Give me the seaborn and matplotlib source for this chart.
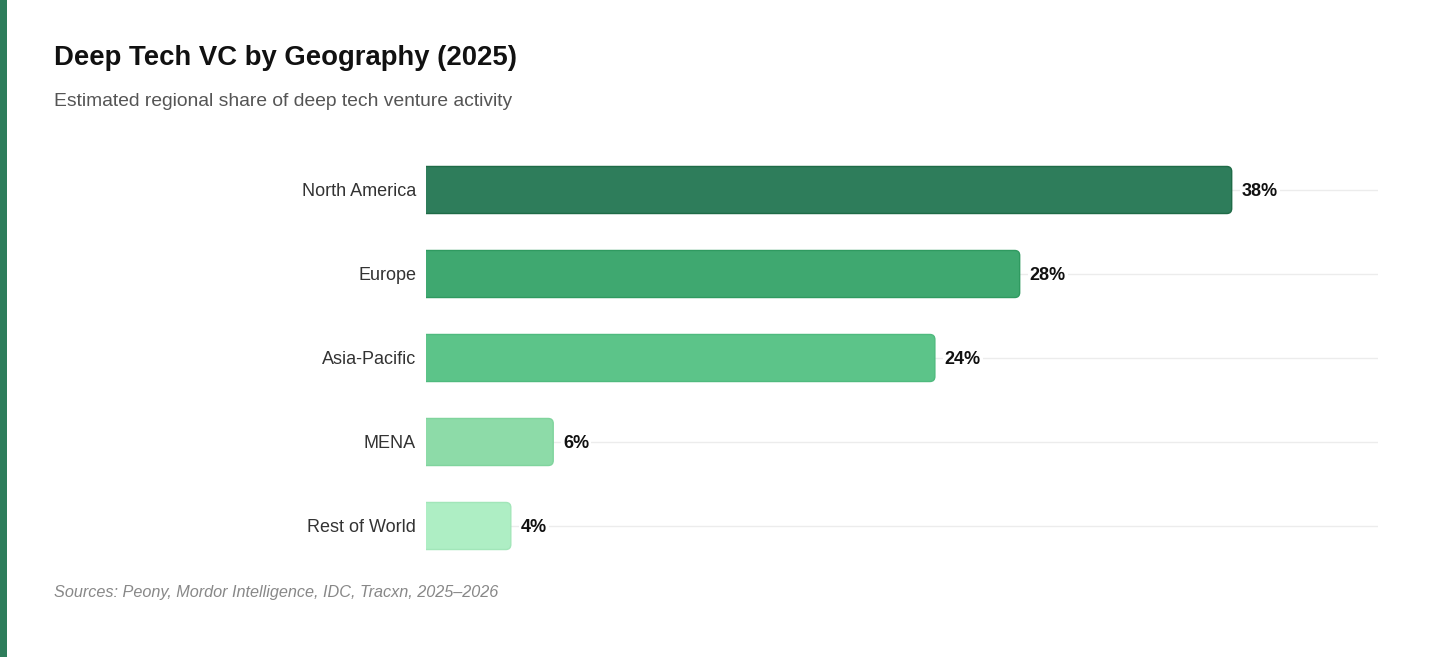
import matplotlib
matplotlib.use("Agg")
import matplotlib.pyplot as plt
import seaborn as sns
import pandas as pd
from matplotlib.patches import FancyBboxPatch, Rectangle

# ------------------------------------------------------------
# Data
# ------------------------------------------------------------
regions = ["North America", "Europe", "Asia-Pacific", "MENA", "Rest of World"]
shares = [38, 28, 24, 6, 4]
bar_colors = ["#2e7d5b", "#3fa870", "#5cc489", "#8ddba8", "#aeeec4"]
edge_colors = ["#1f6b47", "#2f9a60", "#4fba7e", "#80d49d", "#a2e6b9"]

title = "Deep Tech VC by Geography (2025)"
subtitle = "Estimated regional share of deep tech venture activity"
source = "Sources: Peony, Mordor Intelligence, IDC, Tracxn, 2025\u20132026"

df = pd.DataFrame({"region": regions, "share": shares})

# ------------------------------------------------------------
# Figure
# ------------------------------------------------------------
sns.set_theme(style="white")
plt.rcParams["font.family"] = ["Liberation Sans", "DejaVu Sans"]

fig = plt.figure(figsize=(14.56, 6.57), dpi=100)
ax = fig.add_axes([426 / 1456, 1 - 568 / 657, 952 / 1456, 420 / 657])

sns.barplot(data=df, x="share", y="region", hue="region", palette=bar_colors,
            legend=False, width=0.56, ax=ax, zorder=2)

# swap the square bars for bars with rounded right corners
px_x = 952 / 44.9
px_y = 420 / 5.0
for patch, fc, ec in zip(list(ax.patches), bar_colors, edge_colors):
    x0, y0 = patch.get_x(), patch.get_y()
    w, h = patch.get_width(), patch.get_height()
    patch.set_visible(False)
    rr = FancyBboxPatch((x0 - 1, y0), w + 1, h,
                        boxstyle="round,pad=0,rounding_size=%f" % (5 / px_x),
                        mutation_aspect=px_x / px_y,
                        facecolor=fc, edgecolor=ec, linewidth=1, zorder=2)
    ax.add_patch(rr)

ax.set_xlim(0, 44.9)
ax.set_ylim(4.5, -0.5)
ax.set_xlabel("")
ax.set_ylabel("")
ax.set_xticks([])
ax.tick_params(axis="y", length=0, pad=7.2, labelsize=13, labelcolor="#333333")
for s in ax.spines.values():
    s.set_visible(False)
ax.yaxis.grid(True, color="#ececec", linewidth=1)
ax.set_axisbelow(True)

# value labels
for i, v in enumerate(shares):
    ax.annotate(f"{v}%", (v, i), xytext=(7.2, -1.2), textcoords="offset points",
                ha="left", va="center", fontsize=13, fontweight="bold",
                color="#111111", zorder=3,
                bbox=dict(boxstyle="square,pad=0.1", fc="white", ec="none"))

# left accent stripe
fig.patches.append(Rectangle((0, 0), 7 / 1456, 1, transform=fig.transFigure,
                             facecolor="#2e7d5b", edgecolor="none"))

fig.text(54 / 1456, 1 - 58 / 657, title, fontsize=19.8, fontweight="bold",
         color="#111111", ha="left", va="center")
fig.text(54 / 1456, 1 - 102 / 657, subtitle, fontsize=13.85, color="#555555",
         ha="left", va="center")
fig.text(54 / 1456, 1 - 593 / 657, source, fontsize=11.7, style="italic",
         color="#888888", ha="left", va="center")

fig.savefig("out.png", dpi=100, facecolor="white")
